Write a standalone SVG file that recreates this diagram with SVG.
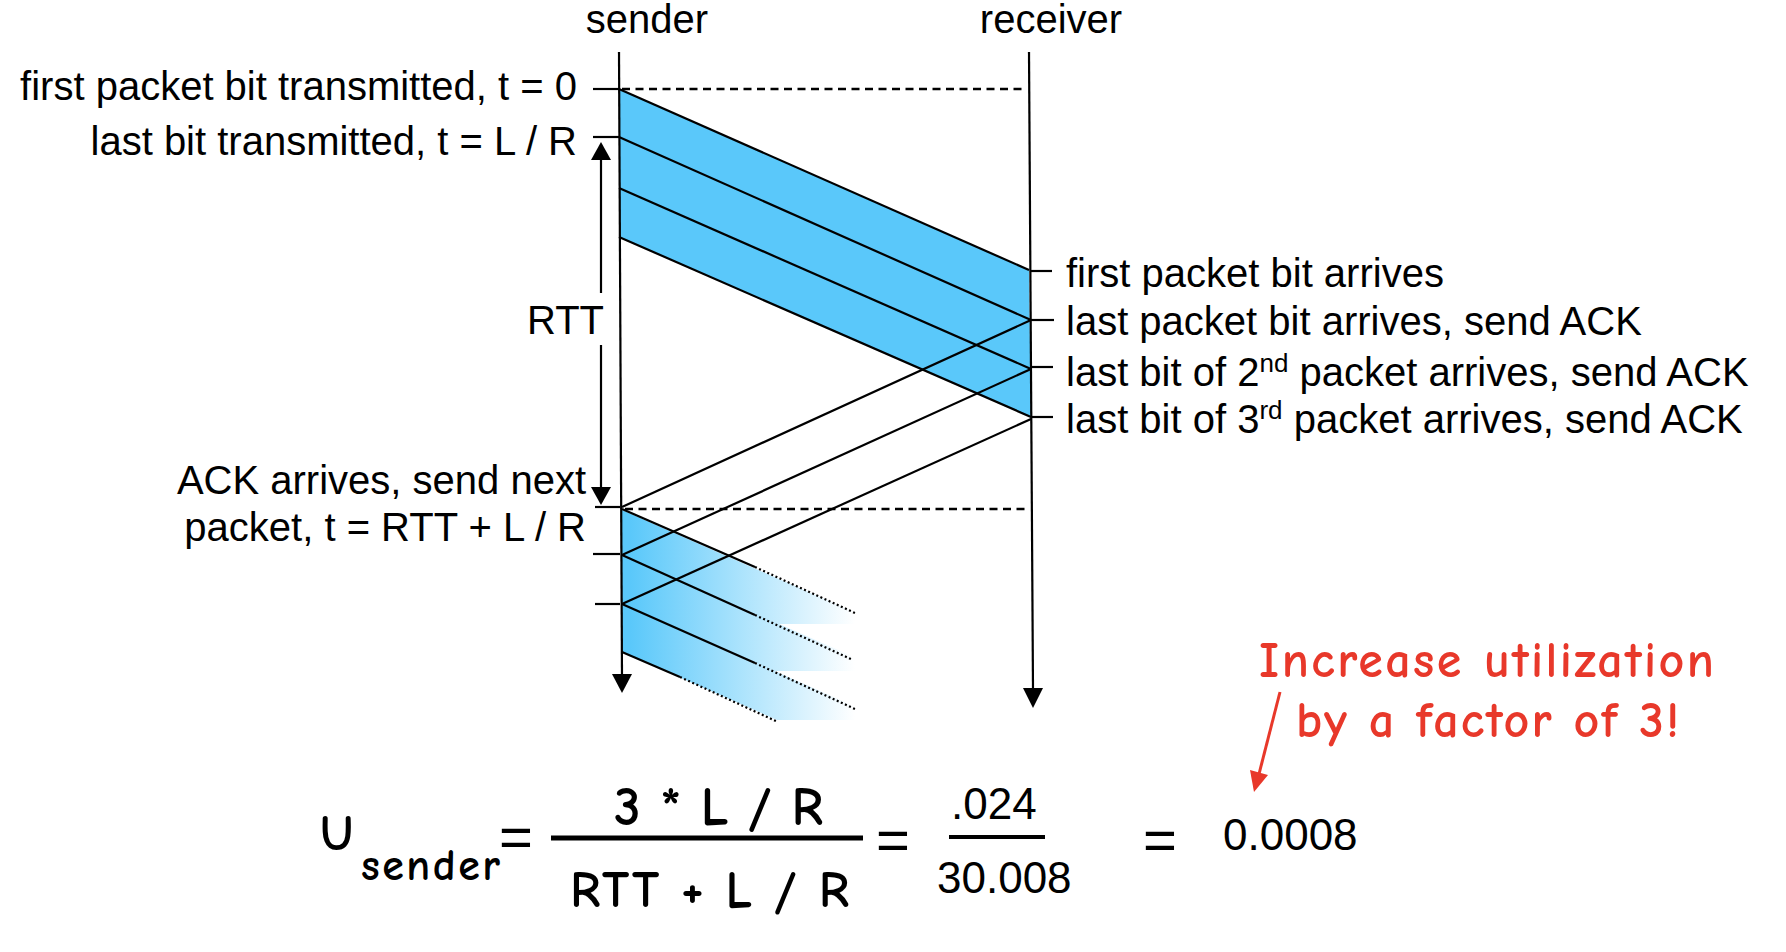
<svg xmlns="http://www.w3.org/2000/svg" width="1786" height="952" viewBox="0 0 1786 952">
<style>
.lbl{font-family:"Liberation Sans",Arial,Helvetica,sans-serif;font-size:40px;fill:#000}
.ln{stroke:#000;stroke-width:2.2;fill:none}
.dash{stroke:#000;stroke-width:2.4;stroke-dasharray:8,5.5;fill:none}
.dot{stroke:#000;stroke-width:2.2;stroke-dasharray:2,2.5;fill:none}
.comic{font-family:"Comic Sans MS","Comic Neue","Liberation Sans",sans-serif;font-weight:bold;fill:#000}
.num{font-family:"Liberation Sans",Arial,sans-serif;font-size:44px;fill:#000}
.eq{font-family:"Liberation Sans",Arial,sans-serif;font-size:58px;fill:#000}
.red{font-family:"Comic Sans MS","Comic Neue","Liberation Sans",sans-serif;font-weight:bold;font-size:50px;fill:#E8382A}
.sup{font-size:26px}
</style>
<defs>
<linearGradient id="fade" gradientUnits="userSpaceOnUse" x1="630" y1="0" x2="855" y2="0">
<stop offset="0" stop-color="#5AC8FA"/>
<stop offset="1" stop-color="#FFFFFF"/>
</linearGradient>
</defs>
<rect width="1786" height="952" fill="#fff"/>

<g id="packets-first">
<polygon points="619,89 1029,270 1031,417 619,237" fill="#5AC8FA"/>
</g>
<g id="packets-next">
<polygon points="622,510 870,619 870,624 777,624 622,555" fill="url(#fade)"/>
<polygon points="622,555 870,664 870,671 774,671 622,604" fill="url(#fade)"/>
<polygon points="622,604 870,713 870,720 777,720 622,652" fill="url(#fade)"/>
</g>

<g id="sender">
<text class="lbl" x="647" y="33" text-anchor="middle">sender</text>
<line class="ln" x1="619" y1="52" x2="622" y2="676"/>
<polygon points="612,674 632,674 622,693" fill="#000"/>
</g>
<g id="receiver">
<text class="lbl" x="1051" y="33" text-anchor="middle">receiver</text>
<line class="ln" x1="1029" y1="52" x2="1033" y2="690"/>
<polygon points="1023,688 1043,688 1033,708" fill="#000"/>
</g>

<g id="connectors">
<line class="dash" x1="622" y1="89" x2="1027" y2="89"/>
<line class="dash" x1="625" y1="509" x2="1025" y2="509"/>
<!-- data packets -->
<line class="ln" x1="619" y1="89" x2="1029" y2="270"/>
<line class="ln" x1="619" y1="137" x2="1031" y2="320"/>
<line class="ln" x1="619" y1="188" x2="1031" y2="369"/>
<line class="ln" x1="619" y1="237" x2="1031" y2="417"/>
<!-- ACKs -->
<line class="ln" x1="1031" y1="320" x2="622" y2="507"/>
<line class="ln" x1="1031" y1="369" x2="622" y2="555"/>
<line class="ln" x1="1031" y1="419" x2="622" y2="604"/>
<!-- next packets -->
<line class="ln" x1="622" y1="509" x2="755" y2="567"/>
<line class="dot" x1="755" y1="567" x2="855" y2="613"/>
<line class="ln" x1="622" y1="555" x2="755" y2="615"/>
<line class="dot" x1="755" y1="615" x2="853" y2="660"/>
<line class="ln" x1="622" y1="604" x2="755" y2="663"/>
<line class="dot" x1="755" y1="663" x2="855" y2="709"/>
<line class="ln" x1="622" y1="652" x2="680" y2="677"/>
<line class="dot" x1="680" y1="677" x2="778" y2="722"/>
<!-- ticks sender -->
<line class="ln" x1="593" y1="89" x2="619" y2="89"/>
<line class="ln" x1="593" y1="137" x2="619" y2="137"/>
<line class="ln" x1="595" y1="507" x2="620" y2="507"/>
<line class="ln" x1="593" y1="554" x2="620" y2="554"/>
<line class="ln" x1="595" y1="604" x2="620" y2="604"/>
<!-- ticks receiver -->
<line class="ln" x1="1030" y1="271" x2="1052" y2="271"/>
<line class="ln" x1="1031" y1="320" x2="1054" y2="320"/>
<line class="ln" x1="1031" y1="367" x2="1053" y2="367"/>
<line class="ln" x1="1031" y1="417" x2="1053" y2="417"/>
<!-- RTT arrow -->
<line class="ln" x1="601" y1="158" x2="601" y2="293"/>
<line class="ln" x1="601" y1="345" x2="601" y2="489"/>
<polygon points="591,160 611,160 601,142" fill="#000"/>
<polygon points="591,487 611,487 601,505" fill="#000"/>
<!-- red arrow -->
<line x1="1280" y1="692" x2="1259" y2="774" stroke="#E8382A" stroke-width="3"/>
<polygon points="1250,770 1268,775 1254,792" fill="#E8382A"/>
</g>

<g id="sender-labels">
<text class="lbl" x="577" y="100" text-anchor="end">first packet bit transmitted, t = 0</text>
<text class="lbl" x="577" y="155" text-anchor="end">last bit transmitted, t = L / R</text>
<text class="lbl" x="604" y="334" text-anchor="end">RTT</text>
<text class="lbl" x="586" y="494" text-anchor="end">ACK arrives, send next</text>
<text class="lbl" x="586" y="541" text-anchor="end">packet, t = RTT + L / R</text>
</g>

<g id="receiver-labels">
<text class="lbl" x="1066" y="287">first packet bit arrives</text>
<text class="lbl" x="1066" y="335">last packet bit arrives, send ACK</text>
<text class="lbl" x="1066" y="386">last bit of 2<tspan class="sup" dy="-14">nd</tspan><tspan dy="14"> packet arrives, send ACK</tspan></text>
<text class="lbl" x="1066" y="433">last bit of 3<tspan class="sup" dy="-14">rd</tspan><tspan dy="14"> packet arrives, send ACK</tspan></text>
</g>

<g id="formula">
<text class="comic" x="320" y="850" font-size="50">U</text>
<text class="comic" x="361" y="880" font-size="44" textLength="139">sender</text>
<text class="eq" x="516" y="857" text-anchor="middle">=</text>
<line x1="551" y1="838" x2="863" y2="838" stroke="#000" stroke-width="5"/>
<text class="comic" x="614" y="825" font-size="54" textLength="209">3 * L / R</text>
<text class="comic" x="570" y="907" font-size="52" textLength="279">RTT + L / R</text>
<text class="eq" x="893" y="860" text-anchor="middle">=</text>
<text class="num" x="951" y="819">.024</text>
<line x1="949" y1="837" x2="1045" y2="837" stroke="#000" stroke-width="4"/>
<text class="num" x="937" y="893">30.008</text>
<text class="eq" x="1160" y="860" text-anchor="middle">=</text>
<text class="num" x="1223" y="850">0.0008</text>
</g>

<g id="note">
<text class="red" x="1259" y="677" textLength="455">Increase utilization</text>
<text class="red" x="1296" y="737" textLength="383">by a factor of 3!</text>
</g>
</svg>
